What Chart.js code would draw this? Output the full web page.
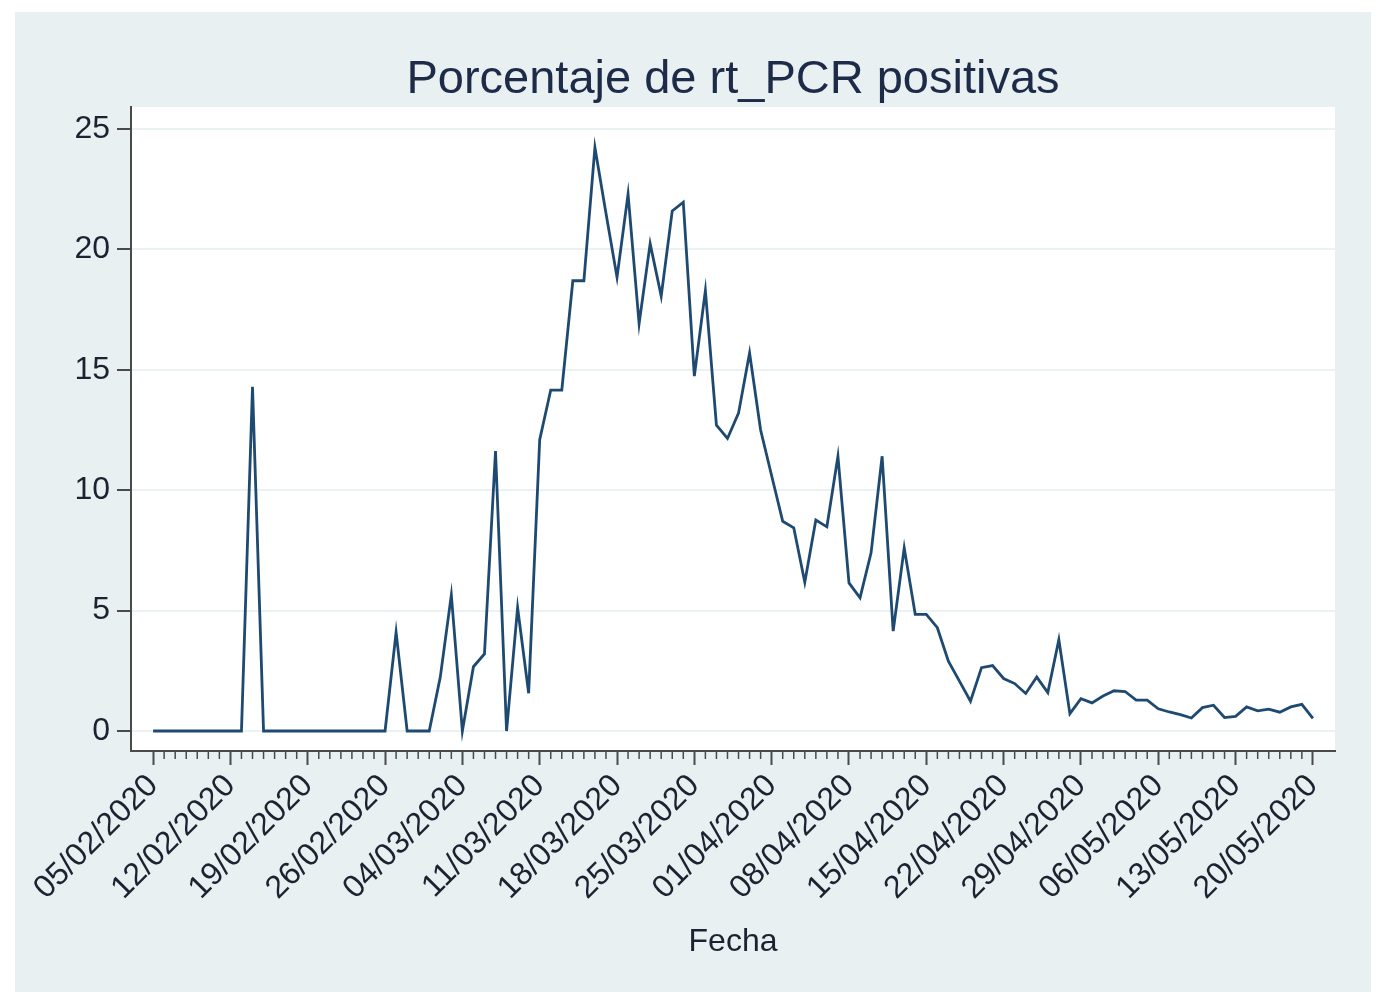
<!DOCTYPE html>
<html>
<head>
<meta charset="utf-8">
<title>Porcentaje de rt_PCR positivas</title>
<script src="https://cdn.jsdelivr.net/npm/chart.js@4.4.1/dist/chart.umd.min.js"></script>
<style>
  body { margin: 0; background: #fff; }
  #wrap { position: absolute; left: 15px; top: 12px; width: 1356px; height: 980px; background: #e8f0f2; }
</style>
</head>
<body>
<div id="wrap"><canvas id="grafico"></canvas></div>
<script>
// porcentaje diario de rt_PCR positivas, desde 05/02/2020 (dia 0) hasta 20/05/2020 (dia 105)
var positivas = [
  0, 0, 0, 0, 0, 0, 0, 0, 0, 14.3,
  0, 0, 0, 0, 0, 0, 0, 0, 0, 0,
  0, 0, 4.1, 0, 0, 0, 2.24, 5.65, 0, 2.67,
  3.2, 11.63, 0, 5.12, 1.57, 12.1, 14.16, 14.16, 18.7, 18.7,
  24.23, 21.5, 18.85, 22.3, 16.92, 20.24, 18.06, 21.6, 21.96, 14.74,
  18.29, 12.7, 12.15, 13.2, 15.7, 12.5, 10.6, 8.71, 8.44, 6.18,
  8.76, 8.48, 11.41, 6.15, 5.53, 7.4, 11.41, 4.15, 7.6, 4.84,
  4.84, 4.29, 2.9, 2.07, 1.24, 2.63, 2.72, 2.18, 1.97, 1.56,
  2.24, 1.6, 3.79, 0.72, 1.34, 1.17, 1.45, 1.67, 1.64, 1.28,
  1.28, 0.92, 0.79, 0.68, 0.54, 0.97, 1.07, 0.56, 0.61, 1.0,
  0.84, 0.91, 0.78, 1.0, 1.11, 0.52
];

// etiquetas semanales del eje x (cada 7 dias)
var etiquetasFecha = [
  "05/02/2020", "12/02/2020", "19/02/2020", "26/02/2020", "04/03/2020", "11/03/2020",
  "18/03/2020", "25/03/2020", "01/04/2020", "08/04/2020", "15/04/2020", "22/04/2020",
  "29/04/2020", "06/05/2020", "13/05/2020", "20/05/2020"
];
var ticksY = [0, 5, 10, 15, 20, 25];

var puntos = positivas.map(function (v, i) { return { x: i, y: v }; });

var fondoPlot = {
  id: "fondoPlot",
  beforeDraw: function (chart) {
    var a = chart.chartArea, ctx = chart.ctx;
    ctx.save();
    ctx.fillStyle = "#ffffff";
    ctx.fillRect(a.left, a.top, a.width, a.height);
    ctx.restore();
  }
};

// ticks menores diarios
var ticksMenores = {
  id: "ticksMenores",
  afterDraw: function (chart) {
    var sx = chart.scales.x, ctx = chart.ctx, y0 = chart.chartArea.bottom;
    ctx.save();
    ctx.strokeStyle = "#4a4a4a";
    ctx.lineWidth = 1.5;
    for (var d = 0; d < positivas.length; d++) {
      if (d % 7 === 0) continue;
      var px = sx.getPixelForValue(d);
      ctx.beginPath();
      ctx.moveTo(px, y0);
      ctx.lineTo(px, y0 + 8);
      ctx.stroke();
    }
    ctx.restore();
  }
};

Chart.defaults.font.family = "'Liberation Sans', Arial, sans-serif";

new Chart(document.getElementById("grafico"), {
  type: "line",
  data: {
    datasets: [{
      label: "positivas",
      data: puntos,
      borderColor: "#1e4a72",
      borderWidth: 2.8,
      pointRadius: 0,
      tension: 0,
      fill: false
    }]
  },
  options: {
    responsive: true,
    maintainAspectRatio: false,
    animation: false,
    layout: { padding: { left: 0, right: 36, top: 0, bottom: 0 } },
    plugins: {
      legend: { display: false },
      tooltip: { enabled: false },
      title: {
        display: true,
        fullSize: false,
        text: "Porcentaje de rt_PCR positivas",
        color: "#1d2a48",
        font: { size: 47, weight: "normal", lineHeight: 1.15 },
        padding: { top: 41, bottom: 0 }
      }
    },
    scales: {
      x: {
        type: "linear",
        min: -2,
        max: 107,
        afterFit: function (s) { s.height = 241; },
        afterBuildTicks: function (s) {
          s.ticks = etiquetasFecha.map(function (e, i) { return { value: i * 7 }; });
        },
        border: { color: "#4a4a4a", width: 2 },
        grid: { drawOnChartArea: false, tickLength: 14, tickColor: "#4a4a4a", tickWidth: 2 },
        ticks: {
          autoSkip: false,
          minRotation: 45,
          maxRotation: 45,
          padding: 2,
          color: "#1c2230",
          font: { size: 32 },
          callback: function (v) { return etiquetasFecha[Math.round(v / 7)]; }
        },
        title: {
          display: true,
          text: "Fecha",
          color: "#1c2230",
          font: { size: 32 },
          padding: { top: 0, bottom: 31 }
        }
      },
      y: {
        min: -0.8306,
        max: 25.914,
        afterFit: function (s) { s.width = 116; },
        afterBuildTicks: function (s) {
          s.ticks = ticksY.map(function (v) { return { value: v }; });
        },
        border: { color: "#4a4a4a", width: 2 },
        grid: { color: "#eaf2f3", lineWidth: 2, tickLength: 14, tickColor: "#4a4a4a", tickWidth: 2 },
        ticks: {
          padding: 7,
          color: "#1c2230",
          font: { size: 32 }
        }
      }
    }
  },
  plugins: [fondoPlot, ticksMenores]
});
</script>
</body>
</html>
